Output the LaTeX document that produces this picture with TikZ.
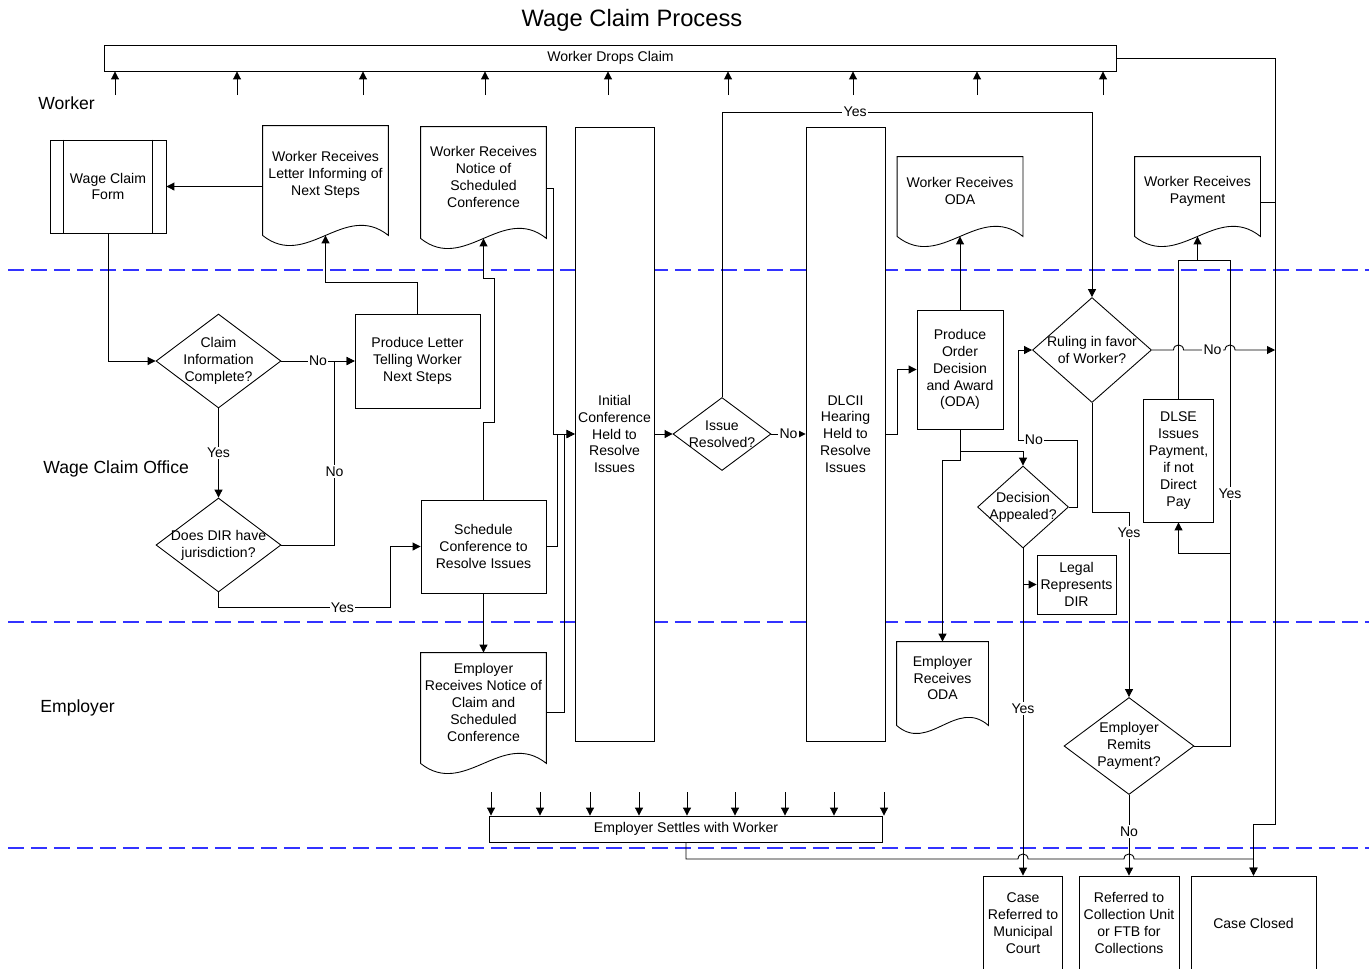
\documentclass[tikz,border=0pt]{standalone}
\usepackage{fontspec}
\setmainfont{Liberation Sans}
\usetikzlibrary{arrows.meta,shapes.geometric}
\definecolor{laneblue}{RGB}{51,51,255}
\tikzset{
>={Triangle[width=4.5pt,length=4.5pt]},
	procbox/.style={
		rectangle,
		sharp corners,
		fill=white,
		draw=black,
		inner sep=1pt,
		align=center},
	docbox/.style={
		rectangle,
		inner sep=1pt,
		align=center},
	decbox/.style={
		diamond,
		fill=white,
		draw=black,
		inner sep=0pt},
	dectext/.style={
		align=center,
		inner sep=0pt,
		font=\fontsize{8}{9.6}\selectfont},
	lbl/.style={
		fill=white,
		inner sep=0.8pt,
		font=\fontsize{8}{9.6}\selectfont},
	lanelbl/.style={
		anchor=west,
		inner sep=0pt,
		font=\fontsize{10}{12}\selectfont},
	lane/.style={
		draw=laneblue,
		line width=1pt,
		dash pattern=on 0.32cm off 0.14cm}
}
\newcommand{\docframe}[3]{%
\draw (#1.north west) -- ([yshift=-0.22cm]#1.south west)
  .. controls +(#2,#3) and +(-#2,-#3) .. ([yshift=-0.22cm]#1.south east)
  -- (#1.north east) -- cycle;}

\begin{document}
\begin{tikzpicture}
[x=0.02cm, y=-0.02cm, line width=0.5pt, font=\fontsize{8}{9.6}\selectfont]
\useasboundingbox (0,0) rectangle (1369,968);
\foreach \y in {270,622,848} \draw[lane] (8,\y) -- (1369,\y);

\node[font=\fontsize{13.5}{16}\selectfont] (title) at (632,20) {Wage Claim Process};
\node[lanelbl] (laneworker) at (38,103) {Worker};
\node[lanelbl] (laneoffice) at (43,469) {Wage Claim Office};
\node[lanelbl] (laneemployer) at (40,708) {Employer};

\node[procbox, minimum width=20.26cm, minimum height=0.52cm] (drops) at (610.5,58) {Worker Drops Claim};
\node[procbox, minimum width=2.32cm, minimum height=1.86cm] (wcf) at (108,186.5) {Wage Claim\\Form};
\draw ([xshift=0.28cm]wcf.north west) -- ([xshift=0.28cm]wcf.south west);
\draw ([xshift=-0.28cm]wcf.north east) -- ([xshift=-0.28cm]wcf.south east);
\node[docbox, minimum width=2.5cm, minimum height=1.96cm] (letter) at (325.5,175) {Worker Receives\\Letter Informing of\\Next Steps};
\docframe{letter}{44}{35}
\node[docbox, minimum width=2.5cm, minimum height=2cm] (notice) at (483.5,177) {Worker Receives\\Notice of\\Scheduled\\Conference};
\docframe{notice}{44}{35}
\node[decbox, minimum width=2.5cm, minimum height=1.88cm, label={[dectext]center:Claim\\Information\\Complete?}] (cic) at (218.5,361) {};
\node[procbox, minimum width=2.5cm, minimum height=1.88cm] (plet) at (417.5,361) {Produce Letter\\Telling Worker\\Next Steps};
\node[decbox, minimum width=2.5cm, minimum height=1.88cm, label={[dectext]center:Does DIR have\\jurisdiction?}] (dir) at (218.5,545) {};
\node[procbox, minimum width=2.5cm, minimum height=1.86cm] (sched) at (483.5,546.5) {Schedule\\Conference to\\Resolve Issues};
\node[docbox, minimum width=2.5cm, minimum height=1.98cm] (empnot) at (483.5,702.5) {Employer\\Receives Notice of\\Claim and\\Scheduled\\Conference};
\docframe{empnot}{44}{35}
\node[procbox, minimum width=1.58cm, minimum height=12.28cm] (ich) at (614.5,434) {Initial\\Conference\\Held to\\Resolve\\Issues};
\node[decbox, minimum width=1.96cm, minimum height=1.46cm, label={[dectext]center:Issue\\Resolved?}] (issue) at (722,434) {};
\node[procbox, minimum width=1.58cm, minimum height=12.28cm] (dlc) at (845.5,434) {DLCII\\Hearing\\Held to\\Resolve\\Issues};
\node[procbox, minimum width=1.72cm, minimum height=2.38cm] (oda) at (960,369.5) {Produce\\Order\\Decision\\and Award\\(ODA)};
\node[docbox, minimum width=2.5cm, minimum height=1.36cm] (woda) at (960,191) {Worker Receives\\ODA};
\docframe{woda}{44}{35}
\node[docbox, minimum width=1.82cm, minimum height=1.44cm] (eoda) at (942.5,678) {Employer\\Receives\\ODA};
\docframe{eoda}{32}{28}
\node[decbox, minimum width=1.82cm, minimum height=1.64cm, label={[dectext]center:Decision\\Appealed?}] (appeal) at (1023,507) {};
\node[procbox, minimum width=1.58cm, minimum height=1.18cm] (legal) at (1076.5,584.5) {Legal\\Represents\\DIR};
\node[decbox, minimum width=2.38cm, minimum height=2.1cm, label={[dectext]center:Ruling in favor\\of Worker?}] (ruling) at (1092,350) {};
\node[docbox, minimum width=2.5cm, minimum height=1.36cm] (wpay) at (1197.5,191) {Worker Receives\\Payment};
\docframe{wpay}{44}{35}
\node[procbox, minimum width=1.4cm, minimum height=2.46cm] (dlse) at (1178.5,460.5) {DLSE\\Issues\\Payment,\\if not\\Direct\\Pay};
\node[decbox, minimum width=2.6cm, minimum height=1.94cm, label={[dectext]center:Employer\\Remits\\Payment?}] (remits) at (1129,746) {};
\node[procbox, minimum width=7.86cm, minimum height=0.52cm] (settle) at (686,829) {Employer Settles with Worker};
\node[procbox, minimum width=1.58cm, minimum height=1.88cm] (muni) at (1023,923) {Case\\Referred to\\Municipal\\Court};
\node[procbox, minimum width=2cm, minimum height=1.88cm] (collect) at (1129,923) {Referred to\\Collection Unit\\or FTB for\\Collections};
\node[procbox, minimum width=2.5cm, minimum height=1.88cm] (closed) at (1253.5,923) {Case Closed};

\coordinate (rail) at (1275,824);
\coordinate (yesbend) at (1092,112);

\foreach \x in {115,237,363,485,608,728,853,977,1103} \draw[->] (\x,95) -- (\x,0 |- drops.south);
\foreach \x in {491,540,590,639,687,735,785,834,884} \draw[->] (\x,792) -- (\x,0 |- settle.north);

\draw[->] (wcf.south) |- (cic.west);
\draw[->] (letter.west |- wcf.east) -- (wcf.east);
\draw[->] (cic.east) -- node[lbl]{No} (plet.west);
\draw[->] (plet.north) -- ++(0,-31) -| ([yshift=-0.22cm]letter.south);
\draw[->] (cic.south) -- node[lbl]{Yes} (dir.north);
\draw[->] (dir.east) -| node[lbl,pos=0.7]{No} ([xshift=-0.4cm]plet.west) -- (plet.west);
\draw[->] (dir.south) -- ++(0,15) -| node[lbl,pos=0.36]{Yes} ([xshift=-0.6cm]sched.west) -- (sched.west);
\draw[->] (sched.north) -- ++(0,-77) -- ++(11,0) -- ++(0,-144) -- ++(-11,0) -- ([yshift=-0.22cm]notice.south);
\draw[->] (sched.south) -- (empnot.north);
\draw[->] ([yshift=-0.22cm]notice.east) -- ++(7,0) |- (ich.west);
\draw[->] (sched.east) -- ++(11,0) |- (ich.west);
\draw[->] ([yshift=-0.2cm]empnot.east) -- ++(18,0) |- (ich.west);
\draw[->] (ich.east) -- (issue.west);
\draw[->] (issue.east) -- node[lbl]{No} (dlc.west);
\draw[->] (issue.north) |- node[lbl,pos=0.68]{Yes} (yesbend) -- (ruling.north);
\draw[->] (dlc.east) -- ++(12,0) |- (oda.west);
\draw[->] (oda.north) -- ([yshift=-0.22cm]woda.south);
\draw[->] (oda.south) -- ++(0,22) -| (appeal.north);
\draw[->] (oda.south) -- ++(0,31) -| (eoda.north);
\draw[->] (appeal.east) -- (1077,507) -- (1077,440) -- node[lbl,pos=0.73]{No} (1018,440) |- (ruling.west);
\draw[->] (appeal.south) |- (legal.west);
\draw[->] (appeal.south) -- node[lbl,pos=0.49]{Yes} (muni.north);
\draw[->] (ruling.south) -- (1092,512) -| node[lbl,pos=0.555]{Yes} (remits.north);
\draw[->] (ruling.east) -- (1173.5,350) .. controls +(0,-6.7) and +(0,-6.7) .. (1183.5,350)
  -- node[lbl,pos=0.7]{No} (1225,350) .. controls +(0,-6.7) and +(0,-6.7) .. (1235,350) -- (rail |- ruling.east);
\draw[->] (remits.east) -| node[lbl,pos=0.76]{Yes} (1230,260) -| ([yshift=-0.22cm]wpay.south);
\draw[->] (1230,553) -| (dlse.south);
\draw (dlse.north) |- (1197.5,260);
\draw[->] (remits.south) -- node[lbl,pos=0.45]{No} (collect.north);
\draw ([yshift=-0.22cm]wpay.east) -- ++(15,0);
\draw[->] (drops.east) -| (rail) -| (closed.north);
\draw[->] (settle.south) -- (686,859) -- (1018,859) .. controls +(0,-6.7) and +(0,-6.7) .. (1028,859)
  -- (1124,859) .. controls +(0,-6.7) and +(0,-6.7) .. (1134,859) -- (1253.5,859) -- (closed.north);
\end{tikzpicture}
\end{document}
